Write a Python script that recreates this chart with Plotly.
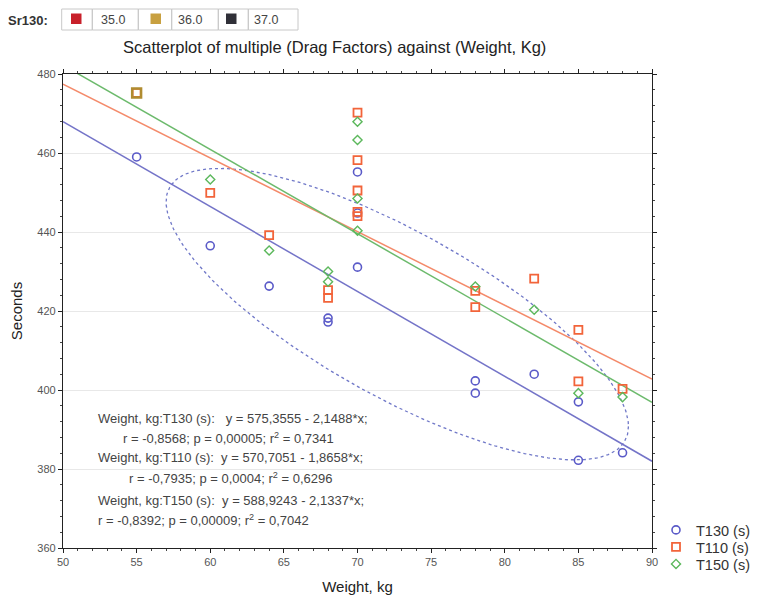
import numpy as np
import plotly.graph_objects as go

# ---------------- data ----------------
t130_weight = [55, 60, 64, 68, 68, 70, 70, 70, 78, 78, 82, 85, 85, 88]
t130_sec    = [459, 436.5, 426.3, 418.2, 417.2, 455.2, 444.8, 431.1, 402.3, 399.2, 404, 397, 382.2, 384.1]

t110_weight = [55, 60, 64, 68, 68, 70, 70, 70, 70, 70, 78, 78, 82, 85, 85, 88]
t110_sec    = [475.2, 449.9, 439.2, 425.3, 423.3, 470.2, 458.2, 450.5, 445.1, 444, 425.1, 421, 428.2, 415.2, 402.2, 400.3]

t150_weight = [60, 64, 68, 68, 70, 70, 70, 70, 78, 82, 85, 88]
t150_sec    = [453.3, 435.3, 430, 427.4, 467.9, 463.3, 448.5, 440.3, 426.2, 420.3, 399.2, 398.2]

# point highlighted in the Sr130 = 36.0 colour
sr36_weight = [55]
sr36_sec = [475.2]

series_names = ["T130 (s)", "T110 (s)", "T150 (s)"]
intercepts = [575.3555, 570.7051, 588.9243]
slopes     = [-2.1488, -1.8658, -2.1337]

stat_lines = [
    "Weight, kg:T130 (s):   y = 575,3555 - 2,1488*x;",
    "r = -0,8568; p = 0,00005; r<sup>2</sup> = 0,7341",
    "Weight, kg:T110 (s):  y = 570,7051 - 1,8658*x;",
    "r = -0,7935; p = 0,0004; r<sup>2</sup> = 0,6296",
    "Weight, kg:T150 (s):  y = 588,9243 - 2,1337*x;",
    "r = -0,8392; p = 0,00009; r<sup>2</sup> = 0,7042",
]

sr130_labels = ["35.0", "36.0", "37.0"]

# ellipse parameters (data ellipse around T130 points)
ell_cx, ell_cy = 72.7, 419.2
ell_rx, ell_ry = 15.7, 36.9
ell_r = -0.77

x_range = [50, 90]
y_range = [360, 480]
x_ticks = [50, 55, 60, 65, 70, 75, 80, 85, 90]
y_ticks = [360, 380, 400, 420, 440, 460, 480]

# ---------------- styles ----------------
BLUE = "#5a5ac8"
ORANGE = "#f2643a"
GREEN = "#5cb85c"
GOLD = "#b08c30"
LINE_COLORS = ["#7474c8", "#f48a6a", "#6cba6c"]
FONT = "Arial, Liberation Sans, sans-serif"

OFF = 8  # page body margin in the browser
W, H = 758 - OFF, 599 - OFF
# plot area in reference pixel coordinates
RL, RR, RT, RB = 63, 652, 74, 548
L, R, T, B = RL - OFF, RR - OFF, RT - OFF, RB - OFF


def px(xp):
    return (xp - RL) / (RR - RL)


def py(yp):
    return (RB - yp) / (RB - RT)


fig = go.Figure()

# ellipse
t = np.linspace(0, 2 * np.pi, 300)
delta = np.arccos(ell_r)
fig.add_trace(go.Scatter(
    x=ell_cx + ell_rx * np.cos(t), y=ell_cy + ell_ry * np.cos(t + delta),
    mode="lines", line=dict(color="#7078c8", width=1.3, dash="dot"),
    showlegend=False, hoverinfo="skip"))

# regression lines
xl = np.array(x_range, dtype=float)
for a, b, c in zip(intercepts, slopes, LINE_COLORS):
    fig.add_trace(go.Scatter(x=xl, y=a + b * xl, mode="lines",
                             line=dict(color=c, width=1.5),
                             showlegend=False, hoverinfo="skip"))

# points
fig.add_trace(go.Scatter(
    x=t130_weight, y=t130_sec, mode="markers", name=series_names[0], legend="legend",
    marker=dict(symbol="circle-open", size=8, color=BLUE, line=dict(width=1.6))))
fig.add_trace(go.Scatter(
    x=t110_weight, y=t110_sec, mode="markers", name=series_names[1], legend="legend2",
    marker=dict(symbol="square-open", size=8, color=ORANGE, line=dict(width=1.8))))
fig.add_trace(go.Scatter(
    x=t150_weight, y=t150_sec, mode="markers", name=series_names[2], legend="legend3",
    marker=dict(symbol="diamond-open", size=7, color=GREEN, line=dict(width=1.4))))
fig.add_trace(go.Scatter(
    x=sr36_weight, y=sr36_sec, mode="markers", showlegend=False, hoverinfo="skip",
    marker=dict(symbol="square-open", size=9, color=GOLD, line=dict(width=2.4))))

# stats annotations
ann_y = [418, 438, 457, 478, 500, 520]
ann_x = [96, 228, 96, 230, 96, 96]
ann_anchor = ["left", "center", "left", "center", "left", "left"]
annotations = []
for txt, yy, xx, an in zip(stat_lines, ann_y, ann_x, ann_anchor):
    annotations.append(dict(x=px(xx), y=py(yy), xref="paper", yref="paper",
                            text=txt, showarrow=False, xanchor=an, yanchor="middle",
                            font=dict(family=FONT, size=13, color="#444")))

# top "Sr130" legend
annotations.append(dict(x=px(6), y=py(20), xref="paper", yref="paper", text="<b>Sr130:</b>",
                        showarrow=False, xanchor="left", yanchor="middle",
                        font=dict(family=FONT, size=13, color="#333")))
text_x = [99, 176, 252]
for lab, xx in zip(sr130_labels, text_x):
    annotations.append(dict(x=px(xx), y=py(20), xref="paper", yref="paper", text=lab,
                            showarrow=False, xanchor="left", yanchor="middle",
                            font=dict(family=FONT, size=12.5, color="#444")))

# title
annotations.append(dict(x=px(334), y=py(47), xref="paper", yref="paper",
                        text="Scatterplot of multiple (Drag Factors) against (Weight, Kg)",
                        showarrow=False, xanchor="center", yanchor="middle",
                        font=dict(family=FONT, size=16.5, color="#222")))

shapes = []
cell_edges = [61.7, 92.3, 138.3, 171.7, 218.3, 248.3, 298]
for i in range(len(cell_edges) - 1):
    shapes.append(dict(type="rect", xref="paper", yref="paper",
                       x0=px(cell_edges[i]), x1=px(cell_edges[i + 1]),
                       y0=py(30), y1=py(9), line=dict(color="#c8c8c8", width=1)))
sq_x = [71, 150.5, 226]
sq_col = ["#c8202a", "#c8a040", "#303038"]
for sx, sc in zip(sq_x, sq_col):
    shapes.append(dict(type="rect", xref="paper", yref="paper",
                       x0=px(sx), x1=px(sx + 10.5), y0=py(24), y1=py(13.5),
                       fillcolor=sc, line=dict(width=0)))

axis_common = dict(showline=True, linecolor="#222", linewidth=1.2, mirror="allticks",
                   ticks="outside", ticklen=4, tickcolor="#222", zeroline=False,
                   automargin=False,
                   tickfont=dict(family=FONT, size=11, color="#555"))

leg_common = dict(x=px(656), xanchor="left", yanchor="middle",
                  font=dict(family=FONT, size=14.5, color="#333"),
                  bgcolor="rgba(0,0,0,0)", itemwidth=30)

fig.update_layout(
    width=W, height=H,
    margin=dict(l=L, r=W - R, t=T, b=H - B, autoexpand=False),
    paper_bgcolor="white", plot_bgcolor="white",
    showlegend=True,
    legend=dict(y=py(530), **leg_common),
    legend2=dict(y=py(547), **leg_common),
    legend3=dict(y=py(564), **leg_common),
    xaxis=dict(range=x_range, tickvals=x_ticks, showgrid=False,
               title=dict(text="Weight, kg", font=dict(family=FONT, size=15, color="#222"), standoff=14),
               minor=dict(dtick=1, ticks="outside", ticklen=2, tickcolor="#444", showgrid=False),
               **axis_common),
    yaxis=dict(range=y_range, tickvals=y_ticks, showgrid=True, gridcolor="#e8e8e8", gridwidth=1,
               title=dict(text="Seconds", font=dict(family=FONT, size=15, color="#222"), standoff=16),
               minor=dict(dtick=4, ticks="outside", ticklen=2, tickcolor="#444", showgrid=False),
               **axis_common),
    annotations=annotations,
    shapes=shapes,
)

fig.write_html("out.html")
